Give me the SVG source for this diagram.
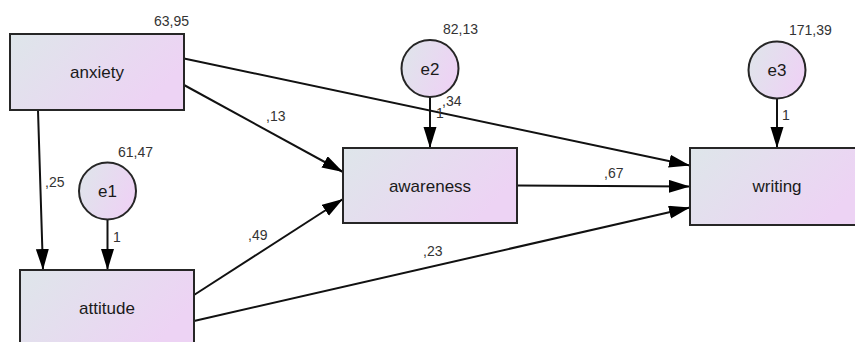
<svg xmlns="http://www.w3.org/2000/svg" width="855" height="342" viewBox="0 0 855 342">
<style>
.box{stroke:#262626;stroke-width:2;fill:url(#g)}
.lbl{font-family:"Liberation Sans",Arial,sans-serif;font-size:17px;fill:#1a1a1a;text-anchor:middle}
.num{font-family:"Liberation Sans",Arial,sans-serif;font-size:14px;fill:#333}
.con{stroke:#111;stroke-width:2;fill:none;marker-end:url(#ah)}
</style>
<defs>
<linearGradient id="g" x1="0" y1="0" x2="1" y2="0.4">
<stop offset="0" stop-color="#dee6ea"/>
<stop offset="1" stop-color="#edd3f4"/>
</linearGradient>
<marker id="ah" markerUnits="userSpaceOnUse" markerWidth="22" markerHeight="14" refX="21" refY="6.5" orient="auto">
<path d="M0,0 L21,6.5 L0,13 Z" fill="#000"/>
</marker>
</defs>
<rect width="855" height="342" fill="#fff"/>
<g id="connectors">
<line class="con" x1="184" y1="58.5" x2="690" y2="165.5"/>
<line class="con" x1="184" y1="85" x2="343" y2="172"/>
<line class="con" x1="194" y1="295" x2="343" y2="199"/>
<line class="con" x1="194" y1="321" x2="690" y2="207.5"/>
<line class="con" x1="517" y1="185.5" x2="690" y2="186.5"/>
<line class="con" x1="38" y1="110" x2="43" y2="270"/>
<line class="con" x1="107.5" y1="219.5" x2="107.5" y2="270"/>
<line class="con" x1="430" y1="97" x2="430" y2="148"/>
<line class="con" x1="777" y1="99" x2="777" y2="148"/>
<text class="num" x="45" y="187">,25</text>
<text class="num" x="113" y="242">1</text>
<text class="num" x="266" y="121">,13</text>
<text class="num" x="248" y="240">,49</text>
<text class="num" x="423" y="256">,23</text>
<text class="num" x="604" y="178">,67</text>
<text class="num" x="442" y="106">,34</text>
<text class="num" x="436" y="118">1</text>
<text class="num" x="782" y="120">1</text>
</g>
<g id="anxiety">
<rect class="box" x="10" y="34" width="174" height="76"/>
<text class="lbl" x="97" y="78">anxiety</text>
<text class="num" x="154" y="26">63,95</text>
</g>
<g id="attitude">
<rect class="box" x="20" y="270" width="174" height="80"/>
<text class="lbl" x="107" y="314">attitude</text>
</g>
<g id="awareness">
<rect class="box" x="343" y="148" width="174" height="75"/>
<text class="lbl" x="430" y="192">awareness</text>
</g>
<g id="writing">
<rect class="box" x="690" y="148" width="174" height="77"/>
<text class="lbl" x="777" y="192">writing</text>
</g>
<g id="e1">
<circle class="box" cx="107.5" cy="191" r="28.5"/>
<text class="lbl" x="107.5" y="197">e1</text>
<text class="num" x="118" y="157">61,47</text>
</g>
<g id="e2">
<circle class="box" cx="430" cy="68.5" r="28.5"/>
<text class="lbl" x="430" y="75">e2</text>
<text class="num" x="443" y="34">82,13</text>
</g>
<g id="e3">
<circle class="box" cx="777" cy="70" r="28.5"/>
<text class="lbl" x="777" y="76">e3</text>
<text class="num" x="789" y="35">171,39</text>
</g>
</svg>
